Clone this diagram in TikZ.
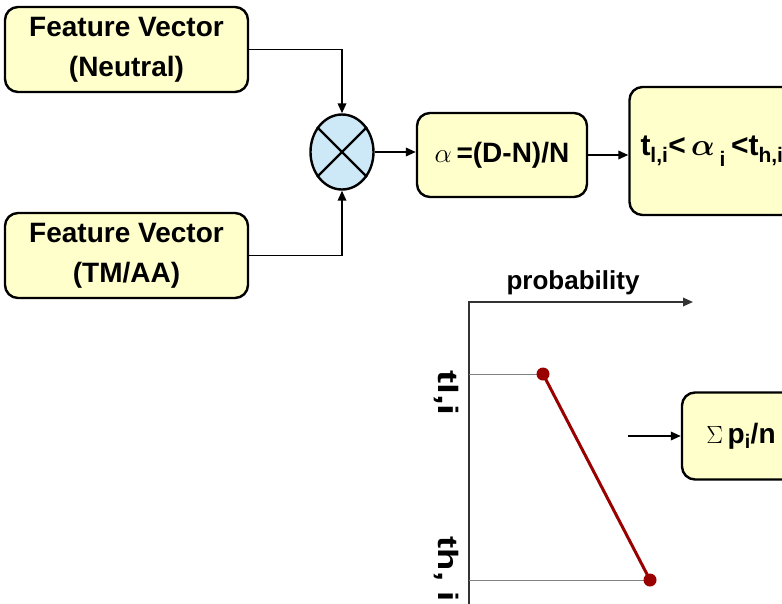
\documentclass[tikz,border=0pt]{standalone}
\usepackage{amsmath}
\usepackage{graphicx}
\usepackage{fontspec}
\setmainfont{Liberation Sans}
\usetikzlibrary{shapes.geometric,arrows.meta}
\definecolor{boxyellow}{HTML}{FFFFCC}
\definecolor{mixblue}{HTML}{CDE9F8}
\definecolor{darkred}{HTML}{990000}
\begin{document}
\begin{tikzpicture}[x=1pt,y=-1pt,
  box/.style={draw, line width=2.4pt, rounded corners=13pt, fill=boxyellow, align=center,
              font=\bfseries\fontsize{28}{40}\selectfont, inner sep=0pt},
  conn/.style={line width=1.9pt, -{Triangle[length=10pt,width=8.5pt]}},
  axis/.style={line width=1.8pt, draw=black!80},
  guide/.style={line width=1pt, draw=gray},
  lbl/.style={font=\bfseries\fontsize{26}{30}\selectfont, inner sep=0pt}]
\clip (0,0) rectangle (782,603);
% top row
\node[box, minimum width=243pt, minimum height=85pt] (fn) at (126.5,49.5) {\raisebox{-4pt}{Feature Vector}\\\raisebox{-4pt}{(Neutral)}};
\node[box, minimum width=243pt, minimum height=85pt] (ft) at (126.5,255.5) {\raisebox{-4pt}{Feature Vector}\\\raisebox{-4pt}{(TM/AA)}};
\node[ellipse, draw, line width=2.4pt, fill=mixblue, minimum width=63pt, minimum height=75pt, inner sep=0pt] (mx) at (342,152) {};
\draw[line width=2.4pt] (mx.45) -- (mx.225) (mx.135) -- (mx.315);
\node[box, minimum width=170pt, minimum height=84pt] (al) at (502,155) {\scalebox{1.1}{$\alpha$}\,=(D-N)/N};
\node[box, minimum width=165pt, minimum height=128pt, font=\bfseries\fontsize{30}{34}\selectfont] (th) at (712,151)
  {t\textsubscript{l,i}<\,\scalebox{1.25}{$\boldsymbol{\alpha}$}\,\raisebox{-4pt}{\textsubscript{i}}\,<t\textsubscript{h,i}};
\draw[conn] (fn.east) -| (mx.north);
\draw[conn] (ft.east) -| (mx.south);
\draw[conn] (mx.east) -- (mx.east -| al.west);
\draw[conn] (al.east) -- (al.east -| th.west);
% graph
\coordinate (O) at (469,302);
\coordinate (ybot) at (469,610);
\coordinate (xend) at (693,302);
\draw[axis, -{Triangle[length=10pt,width=8.5pt]}] (ybot) -- (O) -- (xend);
\node[lbl] (prob) at (573,283) {probability};
\coordinate (pl) at (543,374);
\coordinate (ph) at (650,580);
\draw[guide] (pl -| O) -- (pl);
\draw[guide] (ph -| O) -- (ph);
\draw[darkred, line width=3pt] (pl) -- (ph);
\fill[darkred] (pl) circle (6.5pt);
\fill[darkred] (ph) circle (6.5pt);
\node[lbl, font=\bfseries\fontsize{28}{30}\selectfont, rotate=-90] (tll) at (446,393) {\scalebox{1.4}[1]{tl,i}};
\node[lbl, font=\bfseries\fontsize{28}{30}\selectfont, rotate=-90] (thl) at (446,569) {\scalebox{1.3}[1]{th, i}};
% sum box
\node[box, minimum width=118pt, minimum height=87pt] (sg) at (741,436) {$\Sigma$\,p\textsubscript{i}/n};
\coordinate (sin) at (628,436);
\draw[conn] (sin) -- (sg.west);
\end{tikzpicture}
\end{document}
